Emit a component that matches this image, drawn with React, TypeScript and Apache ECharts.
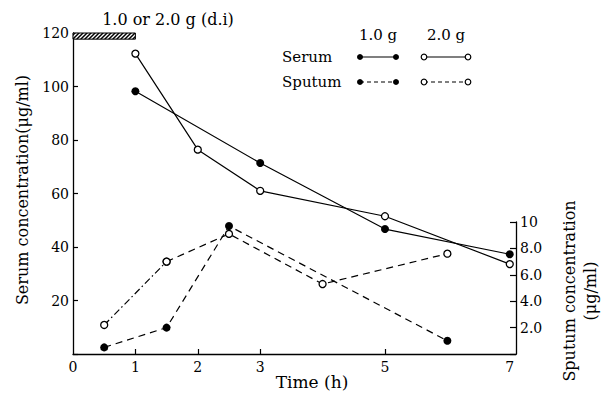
import React, { useEffect, useRef } from "react";
import * as echarts from "echarts";

// ---- data ----
const serumTime1g = [1, 3, 5, 7];
const serum1g = [98.2, 71.4, 46.7, 37.3];
const serumTime2g = [1, 2, 3, 5, 7];
const serum2g = [112.3, 76.4, 61.0, 51.5, 33.6];
const sputumTime1g = [0.5, 1.5, 2.5, 6];
const sputum1g = [0.5, 2.0, 9.7, 1.0];
const sputumTime2g = [0.5, 1.5, 2.5, 4, 6];
const sputum2g = [2.2, 7.0, 9.1, 5.3, 7.6];
const xTickLabels = [0, 1, 2, 3, 5, 7];
const xTickMarks = [1, 2, 3, 5];
const dosingHours = [0, 1];
const dosingBand = [117.7, 120];

const FONT = "'DejaVu Serif', 'Liberation Serif', serif";
const BLACK = "#000";

const pairs = (xs: number[], ys: number[]) => xs.map((x, i) => [x, ys[i]]);

const hatchSvg =
  "<svg xmlns='http://www.w3.org/2000/svg' width='4' height='4'>" +
  "<rect width='4' height='4' fill='white'/>" +
  "<path d='M-1,1 L1,-1 M0,4 L4,0 M3,5 L5,3' stroke='black' stroke-width='1.5'/></svg>";

export default function App() {
  const ref = useRef<HTMLDivElement>(null);

  useEffect(() => {
    if (!ref.current) return;
    const chart = echarts.init(ref.current, null, { renderer: "svg" });

    const pattern: any = {
      image: "data:image/svg+xml;charset=utf-8," + encodeURIComponent(hatchSvg),
      repeat: "repeat",
      imageWidth: 4,
      imageHeight: 4,
    };

    const axisLine = { show: true, onZero: false, lineStyle: { color: BLACK, width: 1.3 } };
    const labelStyle = { color: BLACK, fontFamily: FONT, fontSize: 14 };

    const filled = {
      symbol: "circle",
      symbolSize: 8,
      itemStyle: { color: BLACK },
    };
    const open = {
      symbol: "circle",
      symbolSize: 7,
      itemStyle: { color: "#fff", borderColor: BLACK, borderWidth: 1.3 },
    };

    const s2 = pairs(sputumTime2g, sputum2g);

    const option: any = {
      animation: false,
      backgroundColor: "#fff",
      grid: [
        { left: 73, right: 86, top: 33, bottom: 40 },
        { left: 73, right: 86, top: 222, bottom: 40 },
      ],
      xAxis: [
        {
          gridIndex: 0,
          type: "value",
          min: 0,
          max: 7.1,
          axisLine,
          axisTick: {
            show: true,
            inside: true,
            length: 5,
            customValues: xTickMarks,
            lineStyle: { color: BLACK, width: 1.2 },
          },
          axisLabel: { ...labelStyle, customValues: xTickLabels, margin: 6 },
          splitLine: { show: false },
        },
        { gridIndex: 1, type: "value", min: 0, max: 7.1, show: false },
      ],
      yAxis: [
        {
          gridIndex: 0,
          type: "value",
          min: 0,
          max: 120,
          interval: 20,
          axisLine,
          axisTick: { show: true, inside: true, length: 5, lineStyle: { color: BLACK, width: 1.2 } },
          axisLabel: {
            ...labelStyle,
            margin: 4,
            formatter: (v: number) => (v === 0 ? "" : String(v)),
          },
          splitLine: { show: false },
        },
        {
          gridIndex: 1,
          type: "value",
          position: "right",
          min: 0,
          max: 10,
          interval: 2,
          axisLine,
          axisTick: { show: true, inside: true, length: 6, lineStyle: { color: BLACK, width: 1.2 } },
          axisLabel: {
            ...labelStyle,
            margin: 4,
            formatter: (v: number) => (v === 0 ? "" : v === 10 ? "10" : v.toFixed(1)),
          },
          splitLine: { show: false },
        },
      ],
      series: [
        {
          name: "Serum 1.0 g",
          type: "line",
          xAxisIndex: 0,
          yAxisIndex: 0,
          data: pairs(serumTime1g, serum1g),
          ...filled,
          lineStyle: { color: BLACK, width: 1.2 },
          z: 3,
          markArea: {
            silent: true,
            itemStyle: { color: pattern, borderColor: BLACK, borderWidth: 1 },
            data: [
              [
                { xAxis: dosingHours[0], yAxis: dosingBand[0] },
                { xAxis: dosingHours[1], yAxis: dosingBand[1] },
              ],
            ],
          },
        },
        {
          name: "Serum 2.0 g",
          type: "line",
          xAxisIndex: 0,
          yAxisIndex: 0,
          data: pairs(serumTime2g, serum2g),
          ...open,
          lineStyle: { color: BLACK, width: 1.2 },
          z: 3,
        },
        {
          name: "Sputum 1.0 g",
          type: "line",
          xAxisIndex: 1,
          yAxisIndex: 1,
          data: pairs(sputumTime1g, sputum1g),
          ...filled,
          lineStyle: { color: BLACK, width: 1.2, type: [7, 5] },
          z: 3,
        },
        {
          name: "Sputum 2.0 g (a)",
          type: "line",
          xAxisIndex: 1,
          yAxisIndex: 1,
          data: s2.slice(0, 2),
          ...open,
          lineStyle: { color: BLACK, width: 1.2, type: [7, 3, 1.5, 3] },
          z: 3,
        },
        {
          name: "Sputum 2.0 g",
          type: "line",
          xAxisIndex: 1,
          yAxisIndex: 1,
          data: s2.slice(1),
          ...open,
          lineStyle: { color: BLACK, width: 1.2, type: [7, 5] },
          z: 3,
        },
      ],
      graphic: [
        {
          type: "text",
          x: 168,
          y: 19,
          style: { text: "1.0 or 2.0 g (d.i)", fontFamily: FONT, fontSize: 16, fill: BLACK, align: "center", verticalAlign: "middle" },
        },
        {
          type: "text",
          x: 22,
          y: 190,
          rotation: Math.PI / 2,
          style: { text: "Serum concentration(μg/ml)", fontFamily: FONT, fontSize: 16, fill: BLACK, align: "center", verticalAlign: "middle" },
        },
        {
          type: "text",
          x: 580,
          y: 291,
          rotation: Math.PI / 2,
          style: {
            text: "Sputum concentration\n(μg/ml)",
            fontFamily: FONT,
            fontSize: 16,
            lineHeight: 21,
            fill: BLACK,
            align: "center",
            verticalAlign: "middle",
          },
        },
        {
          type: "text",
          x: 312,
          y: 382,
          style: { text: "Time (h)", fontFamily: FONT, fontSize: 17, fill: BLACK, align: "center", verticalAlign: "middle" },
        },
        // legend
        { type: "text", x: 378, y: 35, style: { text: "1.0 g", fontFamily: FONT, fontSize: 15, fill: BLACK, align: "center", verticalAlign: "middle" } },
        { type: "text", x: 446, y: 35, style: { text: "2.0 g", fontFamily: FONT, fontSize: 15, fill: BLACK, align: "center", verticalAlign: "middle" } },
        { type: "text", x: 282, y: 57, style: { text: "Serum", fontFamily: FONT, fontSize: 15, fill: BLACK, align: "left", verticalAlign: "middle" } },
        { type: "text", x: 282, y: 82, style: { text: "Sputum", fontFamily: FONT, fontSize: 15, fill: BLACK, align: "left", verticalAlign: "middle" } },
        { type: "line", shape: { x1: 360, y1: 57, x2: 396, y2: 57 }, style: { stroke: BLACK, lineWidth: 1.2 } },
        { type: "circle", shape: { cx: 360, cy: 57, r: 3 }, style: { fill: BLACK } },
        { type: "circle", shape: { cx: 396, cy: 57, r: 3 }, style: { fill: BLACK } },
        { type: "line", shape: { x1: 424, y1: 57, x2: 468, y2: 57 }, style: { stroke: BLACK, lineWidth: 1.2 } },
        { type: "circle", shape: { cx: 424, cy: 57, r: 2.8 }, style: { fill: "#fff", stroke: BLACK, lineWidth: 1.2 } },
        { type: "circle", shape: { cx: 468, cy: 57, r: 2.8 }, style: { fill: "#fff", stroke: BLACK, lineWidth: 1.2 } },
        { type: "line", shape: { x1: 360, y1: 82, x2: 396, y2: 82 }, style: { stroke: BLACK, lineWidth: 1.2, lineDash: [4, 3] } },
        { type: "circle", shape: { cx: 360, cy: 82, r: 3 }, style: { fill: BLACK } },
        { type: "circle", shape: { cx: 396, cy: 82, r: 3 }, style: { fill: BLACK } },
        { type: "line", shape: { x1: 424, y1: 82, x2: 468, y2: 82 }, style: { stroke: BLACK, lineWidth: 1.2, lineDash: [4, 3] } },
        { type: "circle", shape: { cx: 424, cy: 82, r: 2.8 }, style: { fill: "#fff", stroke: BLACK, lineWidth: 1.2 } },
        { type: "circle", shape: { cx: 468, cy: 82, r: 2.8 }, style: { fill: "#fff", stroke: BLACK, lineWidth: 1.2 } },
      ],
    };

    chart.setOption(option);
    return () => chart.dispose();
  }, []);

  return (
    <div
      ref={ref}
      style={{ position: "fixed", left: 0, top: 0, width: 602, height: 394, background: "#fff" }}
    />
  );
}
